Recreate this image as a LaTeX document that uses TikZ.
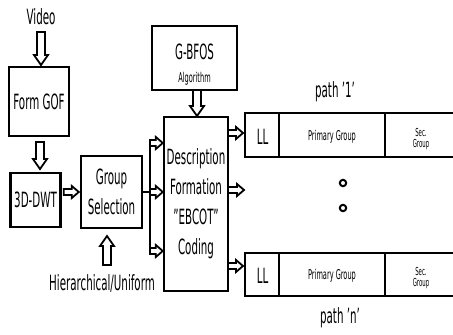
\documentclass[tikz,border=0pt]{standalone}
\usepackage{fontspec}
\setmainfont{DejaVu Sans}[FakeStretch=0.49]
\usetikzlibrary{calc}
\begin{document}
\begin{tikzpicture}[x=1pt,y=-1pt,
  box/.style={draw, line width=2.4pt, inner sep=0pt, align=center},
  pbox/.style={draw, line width=2pt, inner sep=0pt},
  big/.style={font=\fontsize{21}{30}\selectfont},
  small/.style={font=\fontsize{13.5}{15}\selectfont},
  tiny/.style={font=\fontsize{11}{11}\selectfont, align=center},
  harr/.style={line width=1.8pt, fill=white, line join=miter},
  arrR/.style={harr, to path={let \p1=(\tikztostart),\p2=(\tikztotarget) in
     (\x1,\y1+3pt) -- (\x2-7pt,\y1+3pt) -- (\x2-7pt,\y1+6pt) -- (\x2,\y1) --
     (\x2-7pt,\y1-6pt) -- (\x2-7pt,\y1-3pt) -- (\x1,\y1-3pt) -- cycle}},
  arrD/.style={harr, to path={let \p1=(\tikztostart),\p2=(\tikztotarget) in
     (\x1-4pt,\y1) -- (\x1-4pt,\y2+10pt) -- (\x1-7pt,\y2+10pt) -- (\x1,\y2) --
     (\x1+7pt,\y2+10pt) -- (\x1+4pt,\y2+10pt) -- (\x1+4pt,\y1) -- cycle}},
  arrU/.style={harr, to path={let \p1=(\tikztostart),\p2=(\tikztotarget) in
     (\x1-4pt,\y1) -- (\x1-4pt,\y2-10pt) -- (\x1-7pt,\y2-10pt) -- (\x1,\y2) --
     (\x1+7pt,\y2-10pt) -- (\x1+4pt,\y2-10pt) -- (\x1+4pt,\y1) -- cycle}},
]
\useasboundingbox[fill=white] (0,0) rectangle (453,335);

% left column
\node[big] (video) at (41,17) {Video};
\node[box, big, minimum width=60pt, minimum height=69pt] (gof) at (39,101.5) {Form GOF};
\node[box, big, minimum width=50pt, minimum height=54pt] (dwt) at (35.5,200) {3D-DWT};
\node[box, big, minimum width=61pt, minimum height=72pt] (gs) at (111.5,192) {Group\\Selection};
\node[big] (hu) at (102,283) {Hierarchical/Uniform};

% middle
\node[box, minimum width=85pt, minimum height=64pt] (gb) at (194.5,58) {};
\node[big] (gbt) at (194.5,52) {G-BFOS};
\node[small] (gba) at (194.5,79) {Algorithm};
\node[box, big, minimum width=64pt, minimum height=174pt] (desc) at (196,204)
   {Description\\Formation\\"EBCOT"\\Coding};

% right: paths
\node[pbox, minimum width=215pt, minimum height=44pt] (p1) at (352.5,135) {};
\node[pbox, minimum width=215pt, minimum height=43pt] (pn) at (352.5,274.5) {};
\draw[line width=1.6pt] (p1.north -| 279,0) -- (p1.south -| 279,0)
                        (p1.north -| 385,0) -- (p1.south -| 385,0)
                        (pn.north -| 279,0) -- (pn.south -| 279,0)
                        (pn.north -| 385,0) -- (pn.south -| 385,0);
\node[big] (ll1) at (262.5,137) {LL};
\node[small] (pg1) at (332,137) {Primary Group};
\node[tiny] (sg1) at (421,139) {Sec.\\Group};
\node[big] (lln) at (262.5,276) {LL};
\node[small] (pgn) at (332,276) {Primary Group};
\node[tiny] (sgn) at (421,278) {Sec.\\Group};
\node[big] (lab1) at (335,92) {path '1'};
\node[big] (labn) at (340,318) {path 'n'};
\draw[line width=2pt] (343,183) circle (3.2pt) (343,208) circle (3.2pt);

% connectors
\coordinate (va) at (41,32);
\coordinate (vb) at (41,65);
\coordinate (ga) at (40,142);
\coordinate (gb2) at (40,169);
\coordinate (ua) at (107,265);
\coordinate (ub) at (107,236);
\coordinate (ba) at (197,90);
\coordinate (bb2) at (197,116);
\draw[arrD] (va) to (vb);
\draw[arrD] (ga) to (gb2);
\draw[arrR] ([xshift=2pt]dwt.east |- gs.west) to ([xshift=-1pt]gs.west);
\draw[arrU] (ua) to (ub);
\draw[arrD] (ba) to (bb2);

\coordinate (bus) at (150,192);
\coordinate (bt) at (150,143);
\coordinate (bb) at (150,251);
\draw[line width=2.4pt] (gs.east) -- (bus);
\draw[line width=2.4pt] (bt) -- (bb);
\draw[arrR] (bt) to (desc.west |- bt);
\draw[arrR] (bus) to (desc.west |- bus);
\draw[arrR] (bb) to (desc.west |- bb);

\coordinate (m1) at (228,133);
\coordinate (m2) at (228,190);
\coordinate (m3) at (228,266);
\coordinate (m2e) at (244,190);
\draw[arrR] (m1) to ([xshift=-1pt]p1.west |- m1);
\draw[arrR] (m2) to (m2e);
\draw[arrR] (m3) to ([xshift=-1pt]pn.west |- m3);
\end{tikzpicture}
\end{document}
